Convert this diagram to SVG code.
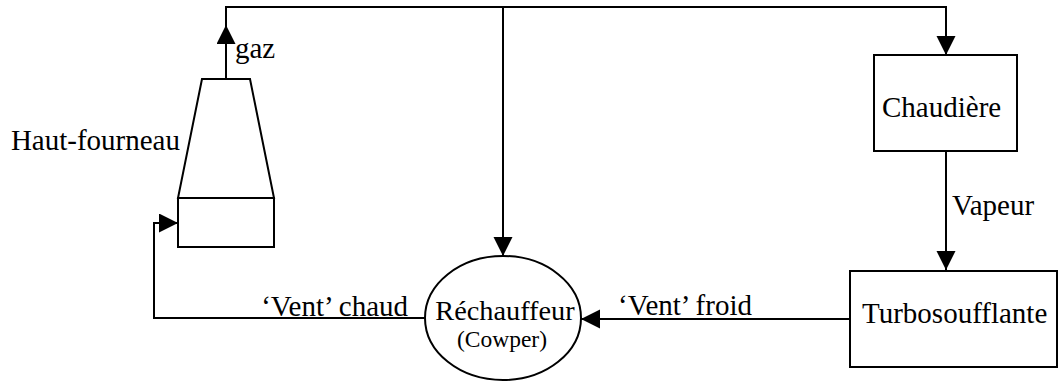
<svg xmlns="http://www.w3.org/2000/svg" width="1059" height="383" viewBox="0 0 1059 383">
<style>
.s{fill:#fff;stroke:#000;stroke-width:2}
.c{fill:none;stroke:#000;stroke-width:2}
.t{font-family:'Liberation Serif','Times New Roman','DejaVu Serif',serif;font-size:29px;fill:#000}
.md{font-size:28.3px}
.sm{font-size:23.5px}
</style>
<defs>
<marker id="ah" markerUnits="userSpaceOnUse" markerWidth="20" markerHeight="20" refX="19" refY="9.5" orient="auto">
<path d="M0,0 L19,9.5 L0,19 z" fill="#000"/>
</marker>
</defs>
<rect width="1059" height="383" fill="#fff"/>
<g id="connectors">
<path class="c" d="M226,79 V25" marker-end="url(#ah)"/>
<path class="c" d="M226,26 V7 H946 V55" marker-end="url(#ah)"/>
<path class="c" d="M503,7 V256" marker-end="url(#ah)"/>
<path class="c" d="M946,151 V270" marker-end="url(#ah)"/>
<path class="c" d="M850,319 H581" marker-end="url(#ah)"/>
<path class="c" d="M426,318 H154 V223 H178" marker-end="url(#ah)"/>
<text class="t" x="235" y="58">gaz</text>
<text class="t" x="952" y="215">Vapeur</text>
<text class="t" x="618" y="315">‘Vent’ froid</text>
<text class="t" x="408" y="316" text-anchor="end">‘Vent’ chaud</text>
</g>
<g id="haut-fourneau">
<path class="s" d="M202,79 H250 L274,198 H178 Z"/>
<rect class="s" x="178" y="198" width="96" height="49"/>
<text class="t" x="180" y="150" text-anchor="end">Haut-fourneau</text>
</g>
<g id="chaudiere">
<rect class="s" x="874" y="55" width="143" height="96"/>
<text class="t" x="882" y="117">Chaudière</text>
</g>
<g id="turbosoufflante">
<rect class="s" x="850" y="271" width="207" height="96"/>
<text class="t" x="862" y="323">Turbosoufflante</text>
</g>
<g id="rechauffeur">
<ellipse class="s" cx="503" cy="318" rx="78" ry="62"/>
<text class="t md" x="505" y="320" text-anchor="middle">Réchauffeur</text>
<text class="t sm" x="502" y="347" text-anchor="middle">(Cowper)</text>
</g>
</svg>
